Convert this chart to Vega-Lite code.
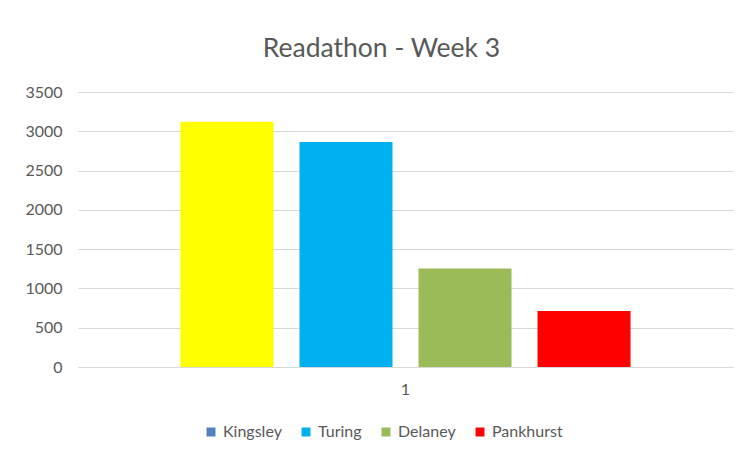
{
  "$schema": "https://vega.github.io/schema/vega-lite/v6.json",
  "autosize": "none",
  "width": 655,
  "height": 275,
  "padding": {"left": 78, "top": 92, "right": 10, "bottom": 89},
  "background": "white",
  "title": {
    "text": "Readathon - Week 3",
    "font": "Lato",
    "fontSize": 26.5,
    "fontWeight": "normal",
    "color": "#595959",
    "anchor": "middle",
    "dx": -24,
    "offset": 22
  },
  "data": {
    "values": [
      {"week": "1", "house": "Kingsley", "pages": 3120},
      {"week": "1", "house": "Turing", "pages": 2865},
      {"week": "1", "house": "Delaney", "pages": 1255},
      {"week": "1", "house": "Pankhurst", "pages": 714}
    ]
  },
  "mark": {"type": "bar"},
  "encoding": {
    "x": {
      "field": "week",
      "type": "nominal",
      "scale": {"paddingInner": 0, "paddingOuter": 0.188},
      "axis": {
        "title": null,
        "labelAngle": 0,
        "ticks": false,
        "domainColor": "#D9D9D9",
        "labelColor": "#595959",
        "labelFont": "Lato",
        "labelFontSize": 16,
        "labelPadding": 14
      }
    },
    "xOffset": {
      "field": "house",
      "type": "nominal",
      "sort": ["Kingsley", "Turing", "Delaney", "Pankhurst"],
      "scale": {"paddingInner": 0.2185, "paddingOuter": 0.109}
    },
    "y": {
      "field": "pages",
      "type": "quantitative",
      "scale": {"domain": [0, 3500], "nice": false},
      "axis": {
        "title": null,
        "values": [0, 500, 1000, 1500, 2000, 2500, 3000, 3500],
        "format": "d",
        "domain": false,
        "ticks": false,
        "gridColor": "#D9D9D9",
        "gridWidth": 1,
        "labelColor": "#595959",
        "labelFont": "Lato",
        "labelFontSize": 16,
        "labelPadding": 16
      }
    },
    "color": {
      "field": "house",
      "type": "nominal",
      "condition": {"test": "datum.house === 'Kingsley'", "value": "#FFFF00"},
      "scale": {
        "domain": ["Kingsley", "Turing", "Delaney", "Pankhurst"],
        "range": ["#4F81BD", "#00B0F0", "#9BBB59", "#FF0000"]
      },
      "legend": {
        "title": null,
        "orient": "none",
        "direction": "horizontal",
        "legendX": 125,
        "legendY": 332,
        "symbolType": "square",
        "symbolSize": 80,
        "symbolStrokeWidth": 0,
        "labelColor": "#595959",
        "labelFont": "Lato",
        "labelFontSize": 16,
        "columnPadding": 16,
        "labelOffset": 4
      }
    }
  },
  "config": {
    "view": {"stroke": null}
  }
}
